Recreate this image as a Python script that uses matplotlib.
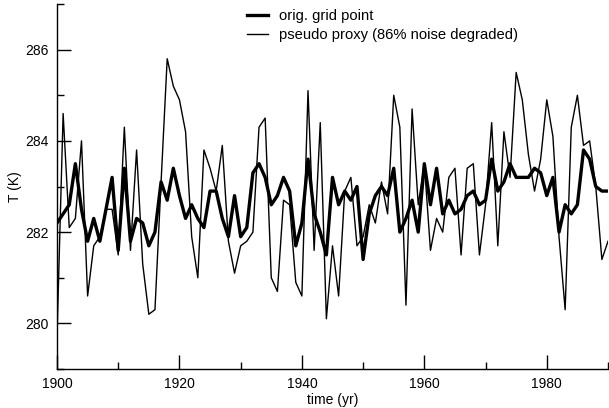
import matplotlib
matplotlib.use("Agg")
import matplotlib.pyplot as plt
from matplotlib.ticker import MultipleLocator

plt.rcParams['font.family'] = ['Liberation Sans', 'DejaVu Sans']

years = list(range(1900, 1991))

orig_grid_point = [
    282.2, 282.4, 282.6, 283.5, 282.5, 281.8, 282.3, 281.8, 282.5, 283.2,
    281.6, 283.4, 281.8, 282.3, 282.2, 281.7, 282.0, 283.1, 282.7, 283.4,
    282.8, 282.3, 282.6, 282.3, 282.1, 282.9, 282.9, 282.3, 281.9, 282.8,
    281.9, 282.1, 283.3, 283.5, 283.2, 282.6, 282.8, 283.2, 282.9, 281.7,
    282.2, 283.6, 282.4, 282.0, 281.5, 283.2, 282.6, 282.9, 282.7, 283.0,
    281.4, 282.4, 282.8, 283.0, 282.8, 283.4, 282.0, 282.3, 282.7, 282.0,
    283.5, 282.6, 283.4, 282.4, 282.7, 282.4, 282.5, 282.8, 282.9, 282.6,
    282.7, 283.6, 282.9, 283.1, 283.5, 283.2, 283.2, 283.2, 283.4, 283.3,
    282.8, 283.2, 282.0, 282.6, 282.4, 282.6, 283.8, 283.6, 283.0, 282.9,
    282.9,
]

pseudo_proxy = [
    279.7, 284.6, 282.1, 282.3, 284.0, 280.6, 281.7, 281.9, 282.5, 282.5,
    281.5, 284.3, 281.6, 283.8, 281.3, 280.2, 280.3, 283.1, 285.8, 285.2,
    284.9, 284.2, 281.9, 281.0, 283.8, 283.4, 282.9, 283.9, 281.8, 281.1,
    281.7, 281.8, 282.0, 284.3, 284.5, 281.0, 280.7, 282.7, 282.6, 280.9,
    280.6, 285.1, 281.6, 284.4, 280.1, 281.7, 280.6, 282.9, 283.2, 281.7,
    281.9, 282.6, 282.2, 283.1, 282.4, 285.0, 284.3, 280.4, 284.7, 282.6,
    283.5, 281.6, 282.3, 282.0, 283.2, 283.4, 281.5, 283.4, 283.5, 281.5,
    282.6, 284.4, 281.7, 284.2, 283.2, 285.5, 284.9, 283.7, 282.9, 283.6,
    284.9, 284.1, 281.9, 280.3, 284.3, 285.0, 283.9, 284.0, 283.0, 281.4,
    281.8,
]

fig = plt.figure(figsize=(6.09, 4.08), dpi=100)
ax = fig.add_axes([57/609, 1 - 369/408, 551/609, 365/408])

ax.plot(years, orig_grid_point, color='black', lw=2.4, label='orig. grid point')
ax.plot(years, pseudo_proxy, color='black', lw=1.0, label='pseudo proxy (86% noise degraded)')

ax.set_xlim(1900, 1990)
ax.set_ylim(279, 287)
ax.xaxis.set_major_locator(MultipleLocator(20))
ax.xaxis.set_minor_locator(MultipleLocator(10))
ax.yaxis.set_major_locator(MultipleLocator(2))
ax.yaxis.set_minor_locator(MultipleLocator(1))

for s in ['top', 'right']:
    ax.spines[s].set_visible(False)
for s in ['left', 'bottom']:
    ax.spines[s].set_linewidth(1.0)

ax.tick_params(which='major', direction='in', length=10, width=1, labelsize=10, pad=6)
ax.tick_params(which='minor', direction='in', length=5, width=1)

ax.set_xlabel('time (yr)', fontsize=10, labelpad=1)
ax.set_ylabel('T (K)', fontsize=10, labelpad=2)

fig.legend(loc='upper left', bbox_to_anchor=(247/609, 1 - 9/408), frameon=False,
           fontsize=10.6, handlelength=1.45, handletextpad=0.7, borderpad=0,
           borderaxespad=0, labelspacing=0.35)

fig.savefig('out.png', dpi=100)
